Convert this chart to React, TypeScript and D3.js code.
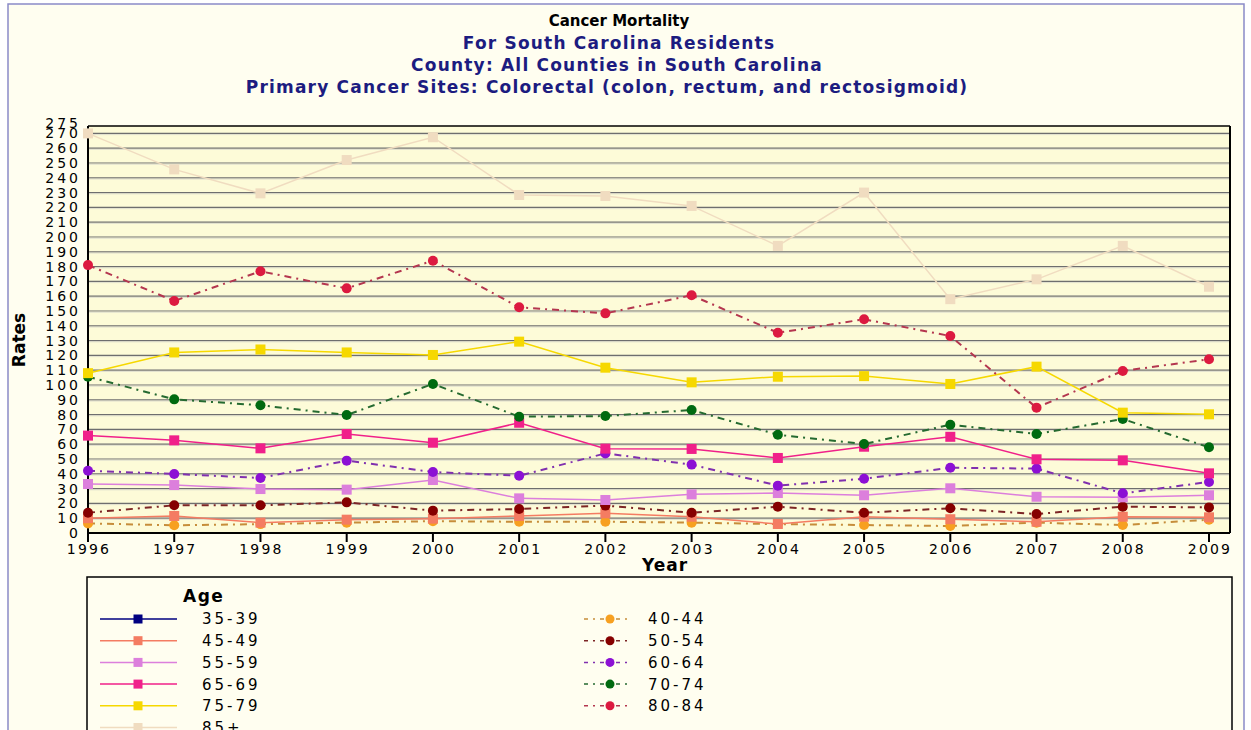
import React from "react";
import * as d3 from "d3";

const years: number[] = [1996, 1997, 1998, 1999, 2000, 2001, 2002, 2003, 2004, 2005, 2006, 2007, 2008, 2009];
const yTicks: number[] = [0, 10, 20, 30, 40, 50, 60, 70, 80, 90, 100, 110, 120, 130, 140, 150, 160, 170, 180, 190, 200, 210, 220, 230, 240, 250, 260, 270, 275];

const ageGroups: string[] = ["35-39", "40-44", "45-49", "50-54", "55-59", "60-64", "65-69", "70-74", "75-79", "80-84", "85+"];

const age35_39: (number | null)[] = [null, null, null, null, null, null, null, null, null, null, null, null, null, null];
const age40_44: number[] = [6.5, 5.2, 6, 7, 8, 7.6, 7.6, 7, 6, 5.4, 4.7, 7, 5.4, 9];
const age45_49: number[] = [10, 11.5, 7, 9, 9.7, 11.5, 13.3, 11, 6.1, 11, 9.3, 7.6, 11, 10.6];
const age50_54: number[] = [13.7, 18.7, 18.7, 20.7, 15.1, 16.2, 18.5, 13.7, 17.8, 13.7, 16.7, 12.8, 17.8, 17.3];
const age55_59: number[] = [33.1, 32.4, 29.7, 29.3, 35.8, 23.4, 22.3, 26.1, 27, 25.5, 30.2, 24.5, 24.1, 25.5];
const age60_64: number[] = [42.1, 39.9, 37.2, 48.9, 41.2, 38.7, 53.8, 46.2, 32, 36.7, 44.1, 43.5, 26.8, 34.5];
const age65_69: number[] = [65.8, 62.6, 57.2, 66.9, 61, 74.5, 57, 56.8, 50.7, 58.3, 65, 49.8, 49.1, 40.3];
const age70_74: number[] = [105.6, 90.3, 86.3, 79.7, 100.7, 78.6, 79, 83.1, 66.4, 60.1, 73.2, 66.9, 77, 57.9];
const age75_79: number[] = [108, 122, 124, 122, 120.3, 129.3, 111.7, 101.8, 105.6, 106, 100.7, 112.4, 81.3, 80.2];
const age80_84: number[] = [181, 156.8, 176.8, 165.3, 184, 152.5, 148.4, 160.6, 135.3, 144.4, 133.1, 84.7, 109.5, 117.4];
const age85plus: number[] = [270, 245.7, 229.5, 252, 267.4, 228.4, 227.7, 221, 194, 230, 158, 171.4, 194, 166.4];

const seriesValues: (number | null)[][] = [age35_39, age40_44, age45_49, age50_54, age55_59, age60_64, age65_69, age70_74, age75_79, age80_84, age85plus];
const seriesColors: string[] = ["#000080", "#f7a020", "#f47c62", "#860000", "#dc7fdc", "#8c10d4", "#f0208a", "#006a10", "#f6d800", "#dc1a40", "#f0dcc0"];
const seriesDashed: boolean[] = [false, true, false, true, false, true, false, true, false, true, false];

const W = 1251;
const H = 730;
const plotLeft = 88;
const plotRight = 1230;
const plotTop = 126;
const plotBottom = 533;
const labelFont = "'DejaVu Sans', Verdana, sans-serif";

export default function App() {
  const x = d3.scalePoint<number>().domain(years).range([plotLeft, 1209]);
  const y = d3.scaleLinear().domain([0, 275]).range([plotBottom, plotTop]);
  const line = d3
    .line<number | null>()
    .defined((d) => d !== null)
    .x((_, i) => x(years[i]) as number)
    .y((d) => y(d as number));

  const dashColor = (c: string) => d3.interpolateRgb(c, "#6a6a6a")(0.35);

  const legendRowsLeft = ageGroups.map((g, i) => ({ g, i })).filter((d) => !seriesDashed[d.i]);
  const legendRowsRight = ageGroups.map((g, i) => ({ g, i })).filter((d) => seriesDashed[d.i]);

  const marker = (i: number, cx: number, cy: number, key: string, size: number) =>
    seriesDashed[i] ? (
      <circle key={key} cx={cx} cy={cy} r={size / 2} fill={seriesColors[i]} />
    ) : (
      <rect key={key} x={cx - size / 2} y={cy - size / 2} width={size} height={size} fill={seriesColors[i]} />
    );

  return (
    <svg
      width={W}
      height={H}
      style={{ position: "absolute", left: 0, top: 0, display: "block" }}
    >
      <rect x={0} y={0} width={W} height={H} fill="#ffffff" />
      <rect x={8} y={4} width={1236} height={760} fill="#fffef0" stroke="#8a8ac8" strokeWidth={1.5} />

      {/* Titles */}
      <g fontFamily={labelFont} fontWeight="bold" textAnchor="middle">
        <text x={619} y={26} fontSize={15} fill="#000000">Cancer Mortality</text>
        <text x={619} y={49} fontSize={17} letterSpacing={1.2} fill="#1c1c80">For South Carolina Residents</text>
        <text x={617} y={71} fontSize={17} letterSpacing={1.2} fill="#1c1c80">County: All Counties in South Carolina</text>
        <text x={607} y={93} fontSize={17} letterSpacing={1.2} fill="#1c1c80">Primary Cancer Sites: Colorectal (colon, rectum, and rectosigmoid)</text>
      </g>

      {/* Plot background */}
      <rect x={plotLeft} y={plotTop} width={plotRight - plotLeft} height={plotBottom - plotTop} fill="#fdfbd8" />

      {/* Gridlines */}
      {yTicks.filter((t) => t > 0 && t < 275).map((t) => (
        <g key={`g${t}`}>
          <line x1={plotLeft} x2={plotRight} y1={y(t)} y2={y(t)} stroke="#6e6e6e" strokeWidth={1.2} />
          <line x1={plotLeft} x2={plotRight} y1={y(t) + 1.2} y2={y(t) + 1.2} stroke="#d8d8cc" strokeWidth={0.8} />
        </g>
      ))}

      {/* Frame */}
      <line x1={plotLeft} x2={plotRight} y1={plotTop} y2={plotTop} stroke="#000" strokeWidth={1.5} />
      <line x1={plotRight} x2={plotRight} y1={plotTop} y2={plotBottom} stroke="#000" strokeWidth={2} />
      <line x1={plotLeft} x2={plotLeft} y1={plotTop} y2={plotBottom + 1} stroke="#000" strokeWidth={2} />
      <line x1={plotLeft} x2={plotRight} y1={plotBottom} y2={plotBottom} stroke="#000" strokeWidth={2} />

      {/* Y tick labels */}
      <g fontFamily={labelFont} fontSize={14} fill="#000" textAnchor="end" letterSpacing={3}>
        {yTicks.map((t) => (
          <text key={`yl${t}`} x={81} y={t === 275 ? y(t) - 3 : y(t)} dy="0.36em">{t}</text>
        ))}
      </g>

      {/* X ticks */}
      {years.map((yr) => (
        <g key={`xt${yr}`}>
          <line x1={x(yr)} x2={x(yr)} y1={plotBottom} y2={plotBottom + 9} stroke="#000" strokeWidth={2} />
          <text x={(x(yr) as number) + 1} y={554} fontFamily={labelFont} fontSize={14} letterSpacing={2.2} textAnchor="middle" fill="#000">{yr}</text>
        </g>
      ))}

      {/* Axis titles */}
      <text x={665} y={571} fontFamily={labelFont} fontSize={17} fontWeight="bold" letterSpacing={1} textAnchor="middle" fill="#000">Year</text>
      <text transform="translate(25,340) rotate(-90)" fontFamily={labelFont} fontSize={17} fontWeight="bold" textAnchor="middle" fill="#000">Rates</text>

      {/* Series */}
      <g>
        {seriesValues.map((vals, i) => (
          <path
            key={`l${i}`}
            d={line(vals) || ""}
            fill="none"
            stroke={seriesDashed[i] ? dashColor(seriesColors[i]) : seriesColors[i]}
            strokeWidth={seriesDashed[i] ? 2 : 1.5}
            strokeDasharray={seriesDashed[i] ? "7,5,2,5" : undefined}
          />
        ))}
        {seriesValues.map((vals, i) =>
          vals.map((v, j) => (v === null ? null : marker(i, x(years[j]) as number, y(v), `m${i}-${j}`, 10)))
        )}
      </g>

      {/* Legend */}
      <rect x={87} y={577} width={1145} height={200} fill="#fffef0" stroke="#000" strokeWidth={1.5} />
      <text x={183} y={602} fontFamily={labelFont} fontSize={17} fontWeight="bold" letterSpacing={1.5} fill="#000">Age</text>
      <g fontFamily={labelFont} fontSize={15} letterSpacing={3} fill="#000">
        {legendRowsLeft.map((d, k) => {
          const cy = 619 + k * 21.7;
          return (
            <g key={`ll${d.i}`}>
              <line x1={100} x2={177} y1={cy} y2={cy} stroke={seriesColors[d.i]} strokeWidth={1.5} />
              {marker(d.i, 138, cy, `lm${d.i}`, 9)}
              <text x={202} y={cy} dy="0.36em">{d.g}</text>
            </g>
          );
        })}
        {legendRowsRight.map((d, k) => {
          const cy = 619 + k * 21.7;
          return (
            <g key={`lr${d.i}`}>
              <line x1={584} x2={631} y1={cy} y2={cy} stroke={dashColor(seriesColors[d.i])} strokeWidth={1.5} strokeDasharray="4,5,2,5" />
              {marker(d.i, 610, cy, `rm${d.i}`, 9)}
              <text x={648} y={cy} dy="0.36em">{d.g}</text>
            </g>
          );
        })}
      </g>
    </svg>
  );
}
